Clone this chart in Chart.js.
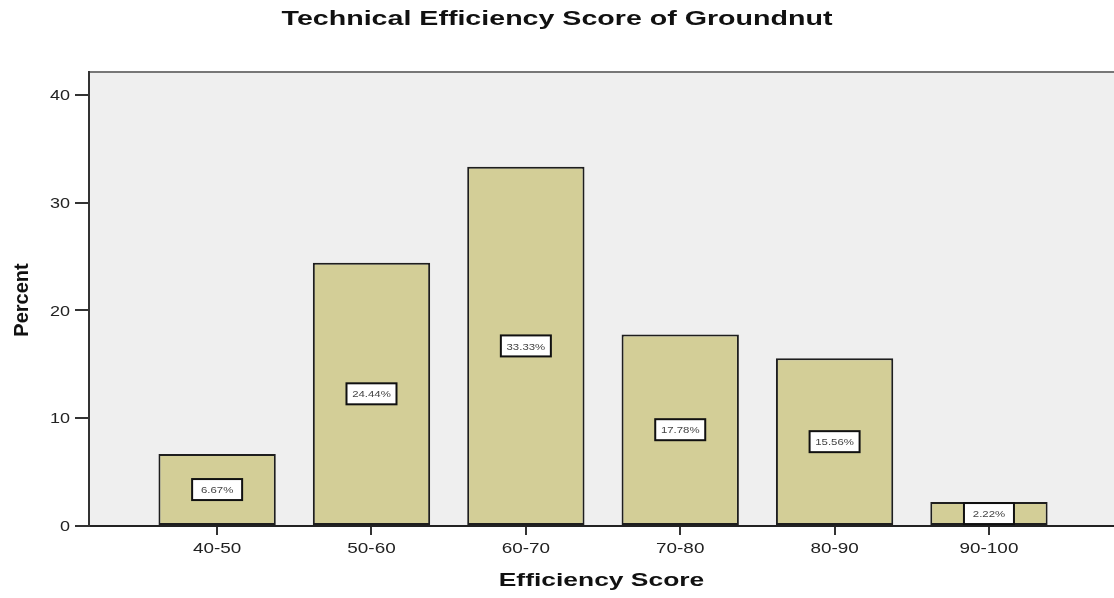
<!DOCTYPE html>
<html>
<head>
<meta charset="utf-8">
<script src="https://cdn.jsdelivr.net/npm/chart.js@4.4.0/dist/chart.umd.min.js"></script>
<style>
    html, body { margin: 0; padding: 0; background: #ffffff; }
    #wrap { width: 1114px; height: 598px; }
</style>
</head>
<body>
<div id="wrap"><canvas id="myBarChart"></canvas></div>
<script>
const categories = ['40-50', '50-60', '60-70', '70-80', '80-90', '90-100'];
const percentValues = [6.67, 24.44, 33.33, 17.78, 15.56, 2.22];
const yTicks = [0, 10, 20, 30, 40];

const chartTitle = 'Technical Efficiency Score of Groundnut';
const xTitle = 'Efficiency Score';
const yTitle = 'Percent';

const FONT = '"Liberation Sans", Arial, sans-serif';

// the source picture is stretched sideways, so text gets a horizontal scale
function wideText(ctx, text, x, y, sx) {
    ctx.save();
    ctx.translate(x, y);
    ctx.scale(sx, 1);
    ctx.fillText(text, 0, 0);
    ctx.restore();
}

// background, border lines, titles, tick labels and the value boxes
const spssLook = {
    id: 'spssLook',
    beforeDraw(chart) {
        const { ctx, chartArea } = chart;
        ctx.save();
        ctx.fillStyle = '#efefef';
        ctx.fillRect(chartArea.left, chartArea.top, chartArea.right - chartArea.left, chartArea.bottom - chartArea.top);
        ctx.strokeStyle = '#777777';
        ctx.lineWidth = 2;
        ctx.beginPath();
        ctx.moveTo(chartArea.left, chartArea.top);
        ctx.lineTo(chartArea.right, chartArea.top);
        ctx.stroke();
        ctx.restore();
    },
    afterDraw(chart) {
        const { ctx, chartArea } = chart;
        const xScale = chart.scales.x;
        const yScale = chart.scales.y;

        ctx.save();
        ctx.fillStyle = '#111111';
        ctx.textAlign = 'center';
        ctx.textBaseline = 'middle';
        ctx.font = 'bold 20px ' + FONT;
        wideText(ctx, chartTitle, chart.width / 2, 19, 1.43);
        ctx.font = 'bold 19px ' + FONT;
        wideText(ctx, xTitle, (chartArea.left + chartArea.right) / 2, 581, 1.39);
        ctx.translate(22, 300);
        ctx.rotate(-Math.PI / 2);
        ctx.font = 'bold 20px ' + FONT;
        ctx.fillText(yTitle, 0, 0);
        ctx.restore();

        // tick labels
        ctx.save();
        ctx.fillStyle = '#222222';
        ctx.font = '15px ' + FONT;
        ctx.textBaseline = 'middle';
        ctx.textAlign = 'center';
        categories.forEach((c, i) => {
            wideText(ctx, c, xScale.getPixelForValue(i), 549, 1.26);
        });
        ctx.textAlign = 'right';
        yTicks.forEach(v => {
            wideText(ctx, String(v), 70, yScale.getPixelForValue(v) + 1, 1.2);
        });
        ctx.restore();

        const meta = chart.getDatasetMeta(0);
        ctx.save();
        ctx.font = '9.5px ' + FONT;
        ctx.textAlign = 'center';
        ctx.textBaseline = 'middle';
        meta.data.forEach((bar, i) => {
            const cy = (bar.y + bar.base) / 2;
            const w = 50, h = 21;
            ctx.fillStyle = '#ffffff';
            ctx.fillRect(bar.x - w / 2, cy - h / 2, w, h);
            ctx.strokeStyle = '#111111';
            ctx.lineWidth = 2;
            ctx.strokeRect(bar.x - w / 2, cy - h / 2, w, h);
            ctx.fillStyle = '#444444';
            wideText(ctx, percentValues[i].toFixed(2) + '%', bar.x, cy + 1, 1.2);
        });
        ctx.restore();
    }
};

const ctx = document.getElementById('myBarChart');
const myBarChart = new Chart(ctx.getContext('2d'), {
    type: 'bar',
    data: {
        datasets: [{
            label: 'Percent',
            data: categories.map((c, i) => ({ x: i, y: percentValues[i] })),
            backgroundColor: '#d3ce97',
            borderColor: '#1e1e1e',
            borderWidth: 2,
            borderSkipped: false,
            barPercentage: 0.76,
            categoryPercentage: 1.0
        }]
    },
    options: {
        responsive: true,
        maintainAspectRatio: false,
        animation: false,
        layout: { padding: { top: 72, left: 0, right: 0, bottom: 0 } },
        plugins: {
            legend: { display: false },
            tooltip: { enabled: false }
        },
        scales: {
            x: {
                type: 'linear',
                offset: false,
                min: -0.83,
                max: 5.81,
                afterBuildTicks: axis => { axis.ticks = categories.map((c, i) => ({ value: i })); },
                afterFit: axis => { axis.height = 72; },
                ticks: { display: false },
                grid: { offset: false, drawOnChartArea: false, tickLength: 9, color: '#333333', lineWidth: 2 },
                border: { color: '#222222', width: 2 }
            },
            y: {
                min: 0,
                max: 42.13,
                afterBuildTicks: axis => { axis.ticks = yTicks.map(v => ({ value: v })); },
                afterFit: axis => { axis.width = 89; },
                ticks: { display: false },
                grid: { drawOnChartArea: false, tickLength: 14, color: '#333333', lineWidth: 2 },
                border: { color: '#333333', width: 2 }
            }
        }
    },
    plugins: [spssLook]
});
</script>
</body>
</html>
